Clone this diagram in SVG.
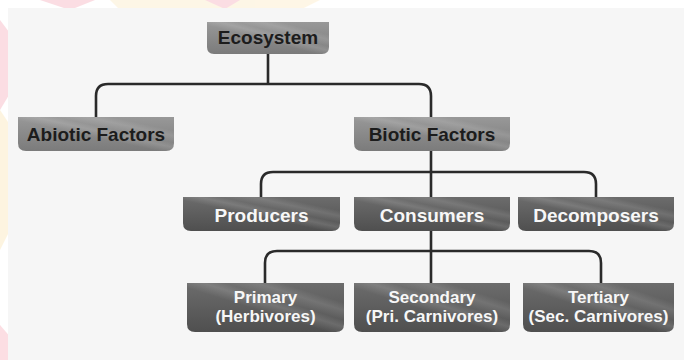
<svg xmlns="http://www.w3.org/2000/svg" width="684" height="360" viewBox="0 0 684 360">
  <defs>
    <linearGradient id="gLight" x1="0" y1="0" x2="0" y2="1">
      <stop offset="0" stop-color="#989898"/>
      <stop offset="1" stop-color="#7b7b7b"/>
    </linearGradient>
    <linearGradient id="gDark" x1="0" y1="0" x2="0" y2="1">
      <stop offset="0" stop-color="#6c6c6c"/>
      <stop offset="1" stop-color="#4f4f4f"/>
    </linearGradient>
    <linearGradient id="streak" x1="0" y1="1" x2="1" y2="0">
      <stop offset="0" stop-color="#fff" stop-opacity="0"/>
      <stop offset="0.45" stop-color="#fff" stop-opacity="0"/>
      <stop offset="0.55" stop-color="#fff" stop-opacity="0.14"/>
      <stop offset="0.62" stop-color="#fff" stop-opacity="0.03"/>
      <stop offset="0.72" stop-color="#fff" stop-opacity="0.12"/>
      <stop offset="0.8" stop-color="#fff" stop-opacity="0"/>
      <stop offset="1" stop-color="#fff" stop-opacity="0"/>
    </linearGradient>
  </defs>
  <style>
    .light { fill: url(#gLight); }
    .dark { fill: url(#gDark); }
    .shine { fill: url(#streak); }
    .tl { font-family: "Liberation Sans", Arial, sans-serif; font-weight: bold; font-size: 19px; fill: #1c1c1c; text-anchor: middle; }
    .tw { font-family: "Liberation Sans", Arial, sans-serif; font-weight: bold; font-size: 19px; fill: #f7f7f7; text-anchor: middle; }
    .tw2 { font-family: "Liberation Sans", Arial, sans-serif; font-weight: bold; font-size: 17px; fill: #f7f7f7; text-anchor: middle; }
    .conn { fill: none; stroke: #2a2a2a; stroke-width: 2.6; stroke-linecap: butt; stroke-linejoin: round; }
  </style>

  <!-- background -->
  <rect x="0" y="0" width="684" height="360" fill="#ffffff"/>
  <g opacity="0.35">
    <polygon points="0,20 0,110 30,60" fill="#f5a0b0"/>
    <polygon points="0,110 0,250 40,170" fill="#fbe2a8"/>
    <polygon points="0,325 0,360 30,360" fill="#f5a0b0"/>
    <polygon points="40,0 95,0 70,10" fill="#f5a0b0"/>
    <polygon points="110,0 320,0 300,10 120,10" fill="#fbe6b8"/>
    <polygon points="205,0 240,0 225,9" fill="#f5a0b0"/>
  </g>
  <rect x="8" y="8" width="676" height="352" fill="#f6f6f6"/>

  <!-- connectors -->
  <g id="connectors">
    <path class="conn" d="M268,54 V84"/>
    <path class="conn" d="M96,117 V96 Q96,84 108,84 H419 Q431,84 431,96 V117"/>
    <path class="conn" d="M431,151 V197"/>
    <path class="conn" d="M261,197 V184 Q261,172 273,172 H584 Q596,172 596,184 V197"/>
    <path class="conn" d="M431,231 V283"/>
    <path class="conn" d="M265,283 V263 Q265,251 277,251 H589 Q601,251 601,263 V283"/>
  </g>

  <!-- nodes -->
  <g id="ecosystem">
    <path class="light" d="M207,22 H329 V47 Q329,54 322,54 H214 Q207,54 207,47 Z"/>
    <path class="shine" d="M207,22 H329 V47 Q329,54 322,54 H214 Q207,54 207,47 Z"/>
    <text class="tl" x="268" y="44">Ecosystem</text>
  </g>
  <g id="abiotic">
    <path class="light" d="M18,117 H174 V143 Q174,151 166,151 H26 Q18,151 18,143 Z"/>
    <path class="shine" d="M18,117 H174 V143 Q174,151 166,151 H26 Q18,151 18,143 Z"/>
    <text class="tl" x="96" y="141">Abiotic Factors</text>
  </g>
  <g id="biotic">
    <path class="light" d="M354,117 H510 V143 Q510,151 502,151 H362 Q354,151 354,143 Z"/>
    <path class="shine" d="M354,117 H510 V143 Q510,151 502,151 H362 Q354,151 354,143 Z"/>
    <text class="tl" x="432" y="141">Biotic Factors</text>
  </g>
  <g id="producers">
    <path class="dark" d="M183,197 H340 V223 Q340,231 332,231 H191 Q183,231 183,223 Z"/>
    <path class="shine" d="M183,197 H340 V223 Q340,231 332,231 H191 Q183,231 183,223 Z"/>
    <text class="tw" x="261.5" y="222">Producers</text>
  </g>
  <g id="consumers">
    <path class="dark" d="M354,197 H510 V223 Q510,231 502,231 H362 Q354,231 354,223 Z"/>
    <path class="shine" d="M354,197 H510 V223 Q510,231 502,231 H362 Q354,231 354,223 Z"/>
    <text class="tw" x="432" y="222">Consumers</text>
  </g>
  <g id="decomposers">
    <path class="dark" d="M518,197 H674 V223 Q674,231 666,231 H526 Q518,231 518,223 Z"/>
    <path class="shine" d="M518,197 H674 V223 Q674,231 666,231 H526 Q518,231 518,223 Z"/>
    <text class="tw" x="596" y="222">Decomposers</text>
  </g>
  <g id="primary">
    <path class="dark" d="M187,283 H344 V324 Q344,332 336,332 H195 Q187,332 187,324 Z"/>
    <path class="shine" d="M187,283 H344 V324 Q344,332 336,332 H195 Q187,332 187,324 Z"/>
    <text class="tw2" x="265.5" y="303">Primary</text>
    <text class="tw2" x="265.5" y="322">(Herbivores)</text>
  </g>
  <g id="secondary">
    <path class="dark" d="M354,283 H510 V324 Q510,332 502,332 H362 Q354,332 354,324 Z"/>
    <path class="shine" d="M354,283 H510 V324 Q510,332 502,332 H362 Q354,332 354,324 Z"/>
    <text class="tw2" x="432" y="303">Secondary</text>
    <text class="tw2" x="432" y="322">(Pri. Carnivores)</text>
  </g>
  <g id="tertiary">
    <path class="dark" d="M523,283 H674 V324 Q674,332 666,332 H531 Q523,332 523,324 Z"/>
    <path class="shine" d="M523,283 H674 V324 Q674,332 666,332 H531 Q523,332 523,324 Z"/>
    <text class="tw2" x="598.5" y="303">Tertiary</text>
    <text class="tw2" x="598.5" y="322">(Sec. Carnivores)</text>
  </g>
</svg>
